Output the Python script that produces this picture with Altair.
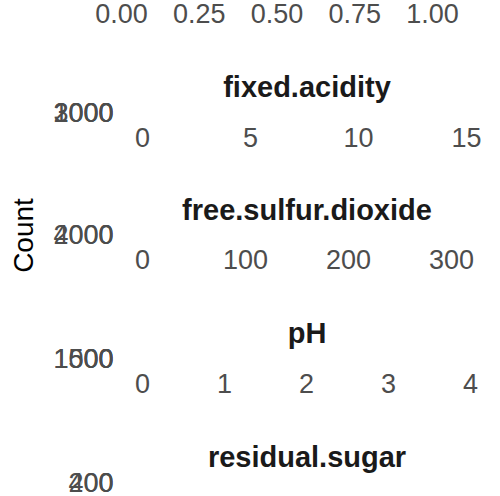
import altair as alt
import pandas as pd

FONT = "Liberation Sans"
LABEL_COLOR = "#4D4D4D"
STRIP_COLOR = "#1A1A1A"
BAR_FILL = "#595959"

# ---- data (histogram bins: centres, bin width, counts) ----
density_centers = [0.9875, 0.9925, 0.9975, 1.0025, 1.0075, 1.0125, 1.0175, 1.0225, 1.0275, 1.0325, 1.0375]
density_width = 0.005
density_counts = [640, 2150, 2600, 1050, 40, 8, 3, 2, 1, 0, 1]

fixed_acidity_centers = [4, 5, 6, 7, 8, 9, 10, 11, 12, 13, 14, 15, 16]
fixed_acidity_width = 1.0
fixed_acidity_counts = [12, 180, 1350, 3020, 1020, 380, 210, 140, 95, 50, 25, 10, 5]

free_sulfur_centers = [25, 75, 125, 175, 225, 275]
free_sulfur_width = 50.0
free_sulfur_counts = [4050, 2300, 120, 20, 5, 2]

ph_centers = [2.75, 2.85, 2.95, 3.05, 3.15, 3.25, 3.35, 3.45, 3.55, 3.65, 3.75, 3.85, 3.95]
ph_width = 0.1
ph_counts = [20, 95, 410, 916, 1380, 1520, 1090, 650, 270, 95, 35, 12, 4]

residual_sugar_centers = [1.25, 3.75, 6.25, 8.75, 11.25, 13.75, 16.25, 18.75, 21.25, 23.75, 26.25, 31.25, 66.25]
residual_sugar_width = 2.5
residual_sugar_counts = [470, 330, 250, 180, 150, 120, 90, 60, 30, 10, 4, 2, 1]

# axis tick labels
density_xticks = [0.0, 0.25, 0.5, 0.75, 1.0]
fixed_acidity_xticks = [0, 5, 10, 15]
free_sulfur_xticks = [0, 100, 200, 300]
ph_xticks = [0, 1, 2, 3, 4]
residual_sugar_xticks = [0, 20, 40, 60]

fixed_acidity_yticks = [0, 1000, 2000, 3000]
free_sulfur_yticks = [0, 2000, 4000]
ph_yticks = [0, 500, 1000, 1500]
residual_sugar_yticks = [0, 200, 400]

# x domains (free scales)
density_xdom = [-0.0064, 1.2026]
fixed_acidity_xdom = [-1.065, 16.343]
free_sulfur_xdom = [-22.33, 342.72]
ph_xdom = [-0.2805, 4.305]
residual_sugar_xdom = [-4.554, 69.90]

PANEL_W = 376
PANEL_H = 0.01  # the panels are collapsed to (almost) zero height


def table(centers, width, counts):
    return pd.DataFrame({
        "lo": [c - width / 2 for c in centers],
        "hi": [c + width / 2 for c in centers],
        "count": counts,
        "base": [0] * len(counts),
    })


def panel(name, centers, width, counts, xdom, xticks, xfmt, yticks,
          show_strip=True, show_y=True, y_title=None, label_pad=12, strip_offset=-26.5):
    df = table(centers, width, counts)
    xaxis = alt.Axis(values=xticks, format=xfmt, title=None, ticks=False, tickSize=0,
                     domain=False, grid=False, labelFlush=False, labelOverlap=False,
                     labelPadding=label_pad, labelFontSize=27, labelFont=FONT,
                     labelColor=LABEL_COLOR)
    if show_y:
        yaxis_kwargs = dict(values=yticks, format="d", ticks=False, tickSize=0, domain=False,
                            grid=False, labelOverlap=False, labelFlush=False, labelPadding=6,
                            labelFontSize=27, labelFont=FONT, labelColor=LABEL_COLOR,
                            labelBaseline="middle")
        if y_title:
            yaxis_kwargs.update(title=y_title, titleFont=FONT, titleFontSize=28,
                                titleFontWeight="normal", titleColor="black", titlePadding=14)
        else:
            yaxis_kwargs.update(title=None)
        yaxis = alt.Axis(**yaxis_kwargs)
    else:
        yaxis = None
    ymax = max(counts) * 1.05
    ch = alt.Chart(df).mark_bar(fill=BAR_FILL).encode(
        x=alt.X("lo:Q", scale=alt.Scale(domain=xdom, nice=False, zero=False), axis=xaxis),
        x2="hi:Q",
        y=alt.Y("count:Q", scale=alt.Scale(domain=[0, ymax], nice=False), axis=yaxis,
                stack=None),
        y2="base:Q",
    )
    props = dict(width=PANEL_W, height=PANEL_H)
    if show_strip:
        props["title"] = alt.TitleParams(name, font=FONT, fontSize=29, fontWeight="bold",
                                         color=STRIP_COLOR, anchor="middle", frame="group",
                                         baseline="alphabetic", offset=strip_offset)
    return ch.properties(**props)


top = panel("density", density_centers, density_width, density_counts, density_xdom,
            density_xticks, ".2f", [], show_strip=False, show_y=False, label_pad=1)
p1 = panel("fixed.acidity", fixed_acidity_centers, fixed_acidity_width, fixed_acidity_counts,
           fixed_acidity_xdom, fixed_acidity_xticks, "d", fixed_acidity_yticks)
p2 = panel("free.sulfur.dioxide", free_sulfur_centers, free_sulfur_width, free_sulfur_counts,
           free_sulfur_xdom, free_sulfur_xticks, "d", free_sulfur_yticks, y_title="Count",
           strip_offset=-51.5)
p3 = panel("pH", ph_centers, ph_width, ph_counts, ph_xdom, ph_xticks, "d", ph_yticks)
p4 = panel("residual.sugar", residual_sugar_centers, residual_sugar_width, residual_sugar_counts,
           residual_sugar_xdom, residual_sugar_xticks, "d", residual_sugar_yticks)

chart = alt.vconcat(top, p1, p2, p3, p4, spacing=45).properties(
    padding={"left": 10, "top": 0, "right": 0, "bottom": -26},
    background="white",
).configure_view(stroke=None)

chart.save("out.html", embed_options={"renderer": "svg", "actions": False})
